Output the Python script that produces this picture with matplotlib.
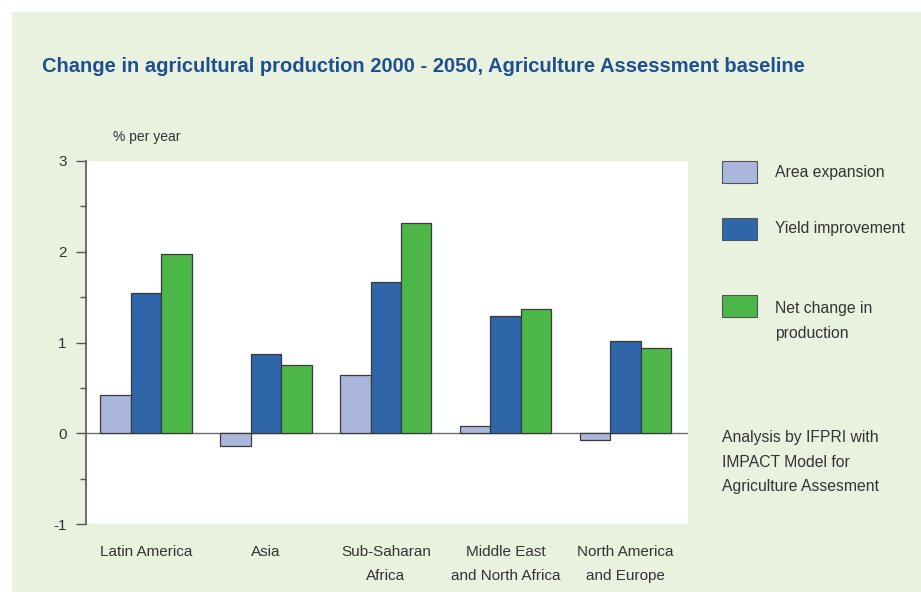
import matplotlib
matplotlib.use("Agg")
import matplotlib.pyplot as plt
from matplotlib.patches import Rectangle
from matplotlib import font_manager
import numpy as np

# Data
regions = ["Latin America", "Asia", "Sub-Saharan\nAfrica",
           "Middle East\nand North Africa", "North America\nand Europe"]
area_expansion = [0.42, -0.14, 0.645, 0.085, -0.07]
yield_improvement = [1.55, 0.876, 1.67, 1.29, 1.02]
net_change = [1.98, 0.755, 2.32, 1.37, 0.934]
series_labels = ["Area expansion", "Yield improvement", "Net change in\nproduction"]
yticks = [-1, 0, 1, 2, 3]

colors = ["#aab6dc", "#2f66a9", "#4db648"]
bg = "#e9f2df"
title_blue = "#1d4f91"
text_col = "#333333"

names = {f.name for f in font_manager.fontManager.ttflist}
family = "Liberation Sans Narrow" if "Liberation Sans Narrow" in names else "Liberation Sans"
plt.rcParams["font.family"] = [family, "DejaVu Sans"]

W, H = 921, 592
fig = plt.figure(figsize=(W / 100, H / 100), dpi=100, facecolor="white")

def px(x, y):
    return x / W, 1 - y / H

# green panel behind everything
fig.patches.append(Rectangle(px(12, 592), (W - 12) / W, (592 - 12) / H,
                             transform=fig.transFigure, facecolor=bg,
                             edgecolor="none", zorder=-10))

ax = fig.add_axes([86 / W, 1 - 524 / H, (688 - 86) / W, (524 - 161) / H])
ax.set_facecolor("white")

x = np.arange(len(regions))
w = 0.254
for i, (vals, c) in enumerate(zip([area_expansion, yield_improvement, net_change], colors)):
    ax.bar(x + (i - 1) * w, vals, width=w, color=c, edgecolor="#3a3a3a",
           linewidth=0.9, zorder=3)

ax.axhline(0, color="#6e6e6e", linewidth=1.0, zorder=2)
ax.set_xlim(-0.5, 4.52)
ax.set_ylim(-1, 3)
ax.set_yticks(yticks)
ax.set_yticks(np.arange(-0.5, 3, 1.0), minor=True)
ax.set_yticklabels([str(t) for t in yticks], fontsize=11, color=text_col)
ax.tick_params(axis="y", which="major", length=7, width=1.0, color="#555555", pad=7)
ax.tick_params(axis="y", which="minor", length=4, width=1.0, color="#555555")
ax.set_xticks(x)
ax.set_xticklabels(regions, fontsize=11, color=text_col, linespacing=1.9)
ax.tick_params(axis="x", length=0, pad=15)
for s in ["top", "right", "bottom"]:
    ax.spines[s].set_visible(False)
ax.spines["left"].set_color("#555555")
ax.spines["left"].set_linewidth(1.2)

# title and axis unit
fig.text(*px(42, 66), "Change in agricultural production 2000 - 2050, Agriculture Assessment baseline",
         fontsize=14.5, fontweight="bold", color=title_blue, va="center", ha="left")
fig.text(*px(113, 137), "% per year", fontsize=10, color=text_col, va="center", ha="left")

# legend
patch_y = [172, 229, 306]
for lab, c, yy in zip(series_labels, colors, patch_y):
    fig.patches.append(Rectangle(px(722, yy + 11), 35 / W, 22 / H,
                                 transform=fig.transFigure, facecolor=c,
                                 edgecolor="#555555", linewidth=0.8))
    if "\n" in lab:
        fig.text(*px(775, 301), lab, fontsize=11.3, color=text_col, va="top",
                 ha="left", linespacing=1.8)
    else:
        fig.text(*px(775, yy), lab, fontsize=11.3, color=text_col, va="center", ha="left")

fig.text(*px(722, 430), "Analysis by IFPRI with\nIMPACT Model for\nAgriculture Assesment",
         fontsize=11.3, color=text_col, va="top", ha="left", linespacing=1.8)

fig.savefig("out.png", dpi=100, facecolor="white")
